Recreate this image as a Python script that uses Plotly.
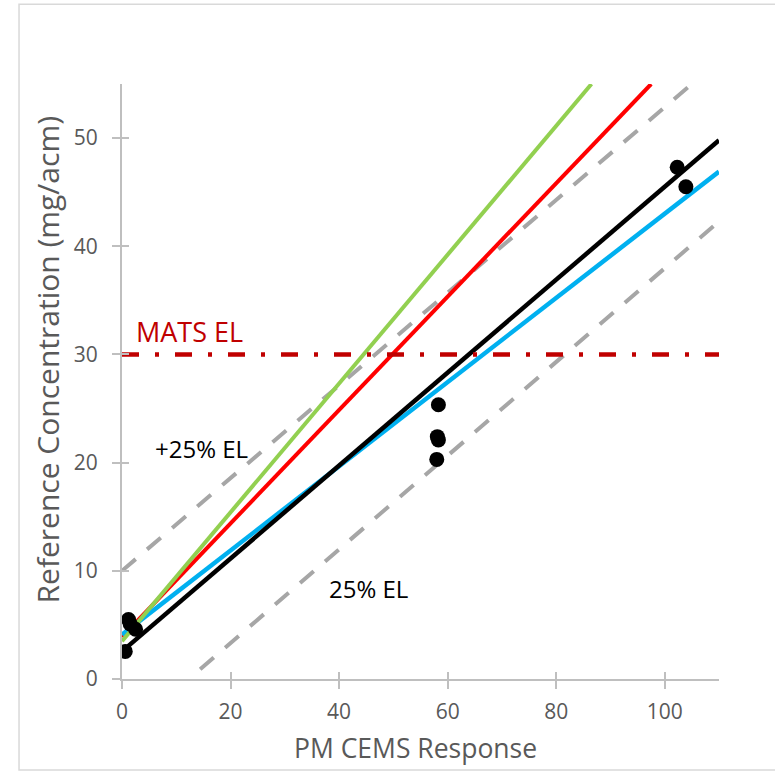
import plotly.graph_objects as go

# ---- data ----
green_x = [0, 86.5]
green_y = [3.5, 55.0]
red_x = [0, 97.5]
red_y = [3.9, 55.0]
black_x = [0, 110]
black_y = [2.55, 49.8]
blue_x = [0, 110]
blue_y = [4.1, 46.9]
upper_x = [0, 105]
upper_y = [10.0, 55.0]
lower_x = [14.4, 110]
lower_y = [0.9, 42.3]
mats_x = [0, 110]
mats_y = [30, 30]

pts_x = [0.6, 1.2, 1.5, 2.5, 58.3, 58.1, 58.3, 58.0, 102.3, 103.9]
pts_y = [2.55, 5.5, 5.1, 4.6, 25.35, 22.4, 22.1, 20.3, 47.3, 45.5]

x_ticks = [0, 20, 40, 60, 80, 100]
y_ticks = [0, 10, 20, 30, 40, 50]

FONT = "Open Sans"
GRAY = "#595959"
AX = "#BFBFBF"

fig = go.Figure()

def line(x, y, color, width, dash="solid"):
    fig.add_trace(go.Scatter(x=x, y=y, mode="lines",
                             line=dict(color=color, width=width, dash=dash),
                             hoverinfo="skip", showlegend=False))

line(upper_x, upper_y, "#A6A6A6", 4, "18px,15px")
line(lower_x, lower_y, "#A6A6A6", 4, "18px,15px")
line(red_x, red_y, "#FF0000", 4)
line(blue_x, blue_y, "#00B0F0", 4.5)
line(black_x, black_y, "#000000", 4.5)
line(green_x, green_y, "#92D050", 4)
line(mats_x, mats_y, "#C00000", 4.5, "17px,16px,4px,16px")

fig.add_trace(go.Scatter(x=pts_x, y=pts_y, mode="markers",
                         marker=dict(color="black", size=15),
                         hoverinfo="skip", showlegend=False))

# dummy trace for the overlay axes (inner half of crossing ticks)
fig.add_trace(go.Scatter(x=[None], y=[None], xaxis="x2", yaxis="y2",
                         mode="markers", showlegend=False, hoverinfo="skip"))

axis_common = dict(showgrid=False, zeroline=False, showline=True,
                   linecolor=AX, linewidth=2, ticks="outside", ticklen=8,
                   tickwidth=2, tickcolor=AX,
                   tickfont=dict(family=FONT, size=21, color=GRAY))

fig.update_layout(
    width=775, height=771,
    margin=dict(l=122, r=56, t=84, b=92),
    paper_bgcolor="white", plot_bgcolor="white",
    xaxis=dict(range=[0, 110], tickvals=x_ticks, ticklabelstandoff=5,
               **axis_common),
    yaxis=dict(range=[0, 55], tickvals=y_ticks, ticklabelstandoff=10,
               **axis_common),
    xaxis2=dict(range=[0, 110], overlaying="x", anchor="y2", tickvals=x_ticks,
                showticklabels=False, showgrid=False, zeroline=False,
                showline=False, ticks="inside", ticklen=7, tickwidth=2,
                tickcolor=AX),
    yaxis2=dict(range=[0, 55], overlaying="y", anchor="x2", tickvals=y_ticks,
                showticklabels=False, showgrid=False, zeroline=False,
                showline=False, ticks="inside", ticklen=7, tickwidth=2,
                tickcolor=AX),
    shapes=[dict(type="rect", xref="paper", yref="paper",
                 x0=-0.1725, x1=1.12, y0=-0.153, y1=1.134,
                 line=dict(color="#D9D9D9", width=1.5), layer="below")],
    annotations=[
        dict(text="PM CEMS Response", xref="paper", yref="paper",
             x=0.4916, y=-0.116, showarrow=False, xanchor="center",
             yanchor="middle", font=dict(family=FONT, size=26.5, color=GRAY)),
        dict(text="Reference Concentration (mg/acm)", xref="paper", yref="paper",
             x=-0.125, y=0.536, showarrow=False, textangle=-90,
             xanchor="center", yanchor="middle",
             font=dict(family=FONT, size=30, color=GRAY)),
        dict(text="MATS EL", x=12.4, y=32.1, showarrow=False,
             font=dict(family=FONT, size=27, color="#C00000")),
        dict(text="+25% EL", x=14.6, y=21.35, showarrow=False,
             font=dict(family=FONT, size=24, color="black")),
        dict(text="25% EL", x=45.4, y=8.35, showarrow=False,
             font=dict(family=FONT, size=24, color="black")),
    ],
)

fig.write_html("out.html")
